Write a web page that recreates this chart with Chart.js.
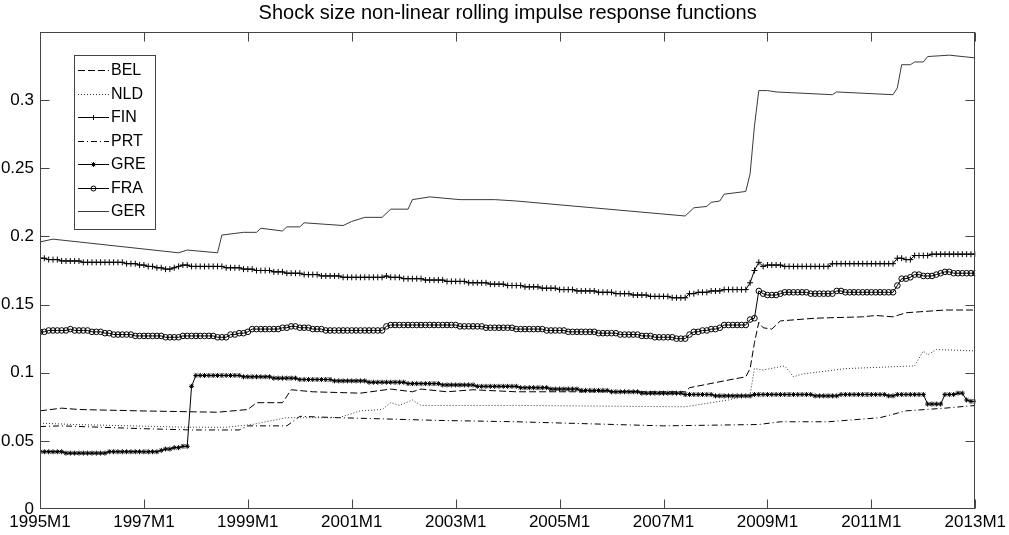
<!DOCTYPE html>
<html>
<head>
<meta charset="utf-8">
<script src="https://cdn.jsdelivr.net/npm/chart.js@4.4.1/dist/chart.umd.min.js"></script>
<style>
  body { margin: 0; background: #fff; }
  #irfChart { display: block; }
</style>
</head>
<body>
<canvas id="irfChart" width="1009" height="535"></canvas>
<script>
// x axis is months since 1995M1 (0..216)
const xTickLabels = ['1995M1', '1997M1', '1999M1', '2001M1', '2003M1', '2005M1', '2007M1', '2009M1', '2011M1', '2013M1'];
const countryNames = ['BEL', 'NLD', 'FIN', 'PRT', 'GRE', 'FRA', 'GER'];
const chartTitle = 'Shock size non-linear rolling impulse response functions';

// series without markers: read at the turning points (month, value)
const belMonths = [0, 5, 9, 23, 41, 48, 50, 56, 58, 63, 74, 81, 86, 88, 94, 100, 110, 149, 150, 158, 163, 164, 165, 166, 167, 169, 171, 179, 190, 193, 197, 200, 209, 216];
const belValues = [0.072, 0.074, 0.073, 0.072, 0.071, 0.073, 0.078, 0.078, 0.0875, 0.086, 0.085, 0.088, 0.086, 0.088, 0.086, 0.0875, 0.086, 0.086, 0.089, 0.094, 0.097, 0.103, 0.122, 0.137, 0.133, 0.132, 0.138, 0.140, 0.141, 0.142, 0.141, 0.144, 0.146, 0.146];

const nldMonths = [0, 8, 34, 43, 49, 57, 61, 69, 74, 79, 81, 83, 86, 88, 110, 149, 159, 164, 165, 167, 172, 174, 176, 186, 202, 204, 205, 207, 216];
const nldValues = [0.063, 0.062, 0.060, 0.060, 0.062, 0.067, 0.067, 0.067, 0.072, 0.073, 0.078, 0.076, 0.080, 0.076, 0.076, 0.075, 0.080, 0.084, 0.103, 0.102, 0.105, 0.097, 0.099, 0.103, 0.105, 0.116, 0.113, 0.117, 0.116];

const prtMonths = [0, 5, 23, 35, 46, 48, 57, 60, 69, 92, 110, 144, 166, 171, 182, 194, 200, 209, 216];
const prtValues = [0.0605, 0.061, 0.059, 0.058, 0.058, 0.061, 0.061, 0.068, 0.067, 0.065, 0.064, 0.061, 0.062, 0.064, 0.064, 0.067, 0.072, 0.074, 0.076];

const gerMonths = [0, 3, 32, 34, 41, 42, 47, 50, 51, 56, 57, 60, 61, 70, 72, 75, 79, 81, 85, 86, 90, 97, 105, 110, 149, 151, 154, 155, 157, 158, 163, 164, 165, 166, 168, 170, 183, 184, 197, 198, 199, 201, 202, 204, 205, 210, 216];
const gerValues = [0.196, 0.198, 0.188, 0.190, 0.188, 0.201, 0.203, 0.203, 0.206, 0.204, 0.207, 0.207, 0.210, 0.208, 0.211, 0.214, 0.214, 0.220, 0.220, 0.227, 0.229, 0.227, 0.227, 0.226, 0.215, 0.221, 0.222, 0.225, 0.226, 0.231, 0.233, 0.246, 0.281, 0.307, 0.307, 0.306, 0.304, 0.306, 0.304, 0.309, 0.326, 0.326, 0.328, 0.328, 0.332, 0.333, 0.331];

// series with markers: one value per month, 1995M1..2013M1
const finValues = [
  0.184, 0.184, 0.183, 0.183, 0.183, 0.182, 0.182, 0.182, 0.182, 0.182, 0.181, 0.181,
  0.181, 0.181, 0.181, 0.181, 0.181, 0.181, 0.181, 0.181, 0.180, 0.180, 0.180, 0.179,
  0.179, 0.178, 0.178, 0.177, 0.177, 0.176, 0.176, 0.177, 0.178, 0.179, 0.179, 0.178,
  0.178, 0.178, 0.178, 0.178, 0.178, 0.178, 0.178, 0.177, 0.177, 0.177, 0.177, 0.176,
  0.176, 0.176, 0.175, 0.175, 0.175, 0.175, 0.174, 0.174, 0.174, 0.173, 0.173, 0.173,
  0.173, 0.172, 0.172, 0.172, 0.172, 0.171, 0.171, 0.171, 0.171, 0.171, 0.170, 0.170,
  0.170, 0.170, 0.170, 0.170, 0.170, 0.170, 0.170, 0.170, 0.171, 0.170, 0.170, 0.170,
  0.169, 0.169, 0.169, 0.169, 0.169, 0.168, 0.168, 0.168, 0.168, 0.168, 0.167, 0.167,
  0.167, 0.167, 0.167, 0.166, 0.166, 0.166, 0.166, 0.166, 0.165, 0.165, 0.165, 0.165,
  0.164, 0.164, 0.164, 0.164, 0.163, 0.163, 0.163, 0.163, 0.162, 0.162, 0.162, 0.162,
  0.161, 0.161, 0.161, 0.161, 0.160, 0.160, 0.160, 0.160, 0.160, 0.159, 0.159, 0.159,
  0.159, 0.158, 0.158, 0.158, 0.158, 0.157, 0.157, 0.157, 0.157, 0.156, 0.156, 0.156,
  0.156, 0.156, 0.155, 0.155, 0.155, 0.155, 0.158, 0.158, 0.159, 0.159, 0.159, 0.160,
  0.160, 0.160, 0.161, 0.161, 0.161, 0.161, 0.161, 0.161, 0.166, 0.175, 0.181, 0.178,
  0.179, 0.179, 0.179, 0.179, 0.178, 0.178, 0.178, 0.178, 0.178, 0.178, 0.178, 0.178,
  0.178, 0.178, 0.178, 0.180, 0.180, 0.180, 0.180, 0.180, 0.180, 0.180, 0.180, 0.180,
  0.180, 0.180, 0.180, 0.180, 0.180, 0.180, 0.184, 0.184, 0.183, 0.183, 0.186, 0.186,
  0.186, 0.186, 0.187, 0.187, 0.187, 0.187, 0.187, 0.187, 0.187, 0.187, 0.187, 0.187,
  0.187
];

const greValues = [
  0.042, 0.042, 0.042, 0.042, 0.042, 0.042, 0.041, 0.041, 0.041, 0.041, 0.041, 0.041,
  0.041, 0.041, 0.041, 0.041, 0.042, 0.042, 0.042, 0.042, 0.042, 0.042, 0.042, 0.042,
  0.042, 0.042, 0.042, 0.042, 0.043, 0.044, 0.044, 0.045, 0.045, 0.046, 0.046, 0.090,
  0.098, 0.098, 0.098, 0.098, 0.098, 0.098, 0.098, 0.098, 0.098, 0.098, 0.098, 0.097,
  0.097, 0.097, 0.097, 0.097, 0.097, 0.097, 0.096, 0.096, 0.096, 0.096, 0.096, 0.096,
  0.095, 0.095, 0.095, 0.095, 0.095, 0.095, 0.095, 0.095, 0.094, 0.094, 0.094, 0.094,
  0.094, 0.094, 0.094, 0.094, 0.093, 0.093, 0.093, 0.093, 0.093, 0.093, 0.093, 0.093,
  0.093, 0.092, 0.092, 0.092, 0.092, 0.092, 0.092, 0.092, 0.092, 0.091, 0.091, 0.091,
  0.091, 0.091, 0.091, 0.091, 0.091, 0.090, 0.090, 0.090, 0.090, 0.090, 0.090, 0.090,
  0.090, 0.090, 0.090, 0.089, 0.089, 0.089, 0.089, 0.089, 0.089, 0.089, 0.088, 0.088,
  0.088, 0.088, 0.088, 0.088, 0.088, 0.087, 0.087, 0.087, 0.087, 0.087, 0.087, 0.087,
  0.086, 0.086, 0.086, 0.086, 0.086, 0.086, 0.086, 0.085, 0.085, 0.085, 0.085, 0.085,
  0.085, 0.085, 0.085, 0.085, 0.085, 0.084, 0.084, 0.084, 0.084, 0.084, 0.084, 0.084,
  0.083, 0.083, 0.083, 0.083, 0.083, 0.083, 0.083, 0.083, 0.083, 0.084, 0.084, 0.084,
  0.084, 0.084, 0.084, 0.084, 0.084, 0.084, 0.084, 0.084, 0.084, 0.084, 0.084, 0.083,
  0.083, 0.083, 0.083, 0.083, 0.083, 0.084, 0.084, 0.084, 0.084, 0.084, 0.084, 0.084,
  0.084, 0.084, 0.084, 0.084, 0.083, 0.083, 0.084, 0.084, 0.084, 0.084, 0.084, 0.084,
  0.084, 0.077, 0.077, 0.077, 0.077, 0.084, 0.084, 0.084, 0.085, 0.085, 0.080, 0.079,
  0.079
];

const fraValues = [
  0.130, 0.130, 0.131, 0.131, 0.131, 0.131, 0.131, 0.132, 0.131, 0.131, 0.131, 0.131,
  0.130, 0.130, 0.130, 0.129, 0.129, 0.128, 0.128, 0.128, 0.128, 0.128, 0.127, 0.127,
  0.127, 0.127, 0.127, 0.127, 0.127, 0.126, 0.126, 0.126, 0.126, 0.127, 0.127, 0.127,
  0.127, 0.127, 0.127, 0.127, 0.127, 0.126, 0.126, 0.126, 0.128, 0.128, 0.129, 0.129,
  0.130, 0.132, 0.132, 0.132, 0.132, 0.132, 0.132, 0.132, 0.133, 0.133, 0.134, 0.134,
  0.133, 0.133, 0.133, 0.132, 0.132, 0.132, 0.131, 0.131, 0.131, 0.131, 0.131, 0.131,
  0.131, 0.131, 0.131, 0.131, 0.131, 0.131, 0.131, 0.131, 0.134, 0.135, 0.135, 0.135,
  0.135, 0.135, 0.135, 0.135, 0.135, 0.135, 0.135, 0.135, 0.135, 0.135, 0.135, 0.135,
  0.135, 0.134, 0.134, 0.134, 0.134, 0.134, 0.134, 0.133, 0.133, 0.133, 0.133, 0.133,
  0.133, 0.133, 0.132, 0.132, 0.132, 0.132, 0.132, 0.132, 0.132, 0.131, 0.131, 0.131,
  0.131, 0.131, 0.130, 0.130, 0.130, 0.130, 0.130, 0.130, 0.130, 0.129, 0.129, 0.129,
  0.129, 0.129, 0.128, 0.128, 0.128, 0.128, 0.128, 0.127, 0.127, 0.127, 0.126, 0.126,
  0.126, 0.126, 0.126, 0.125, 0.125, 0.125, 0.128, 0.130, 0.130, 0.131, 0.131, 0.132,
  0.132, 0.133, 0.135, 0.135, 0.135, 0.135, 0.135, 0.135, 0.139, 0.140, 0.160, 0.158,
  0.157, 0.157, 0.157, 0.158, 0.159, 0.159, 0.159, 0.159, 0.159, 0.159, 0.158, 0.158,
  0.158, 0.158, 0.158, 0.158, 0.160, 0.160, 0.159, 0.159, 0.159, 0.159, 0.159, 0.159,
  0.159, 0.159, 0.159, 0.159, 0.159, 0.159, 0.164, 0.169, 0.169, 0.170, 0.172, 0.172,
  0.171, 0.171, 0.171, 0.172, 0.173, 0.174, 0.174, 0.173, 0.173, 0.173, 0.173, 0.173,
  0.173
];

const byTurningPoints = (months, values) => months.map((m, i) => ({ x: m, y: values[i] }));
const byMonth = values => values.map((v, i) => ({ x: i, y: v }));

const FONT = "'Liberation Sans', Arial, Helvetica, sans-serif";

// frame round the plot with inward ticks on all four sides, title centred over the axes
const boxAxes = {
    id: 'boxAxes',
    afterDatasetsDraw(chart) {
        const { ctx, chartArea: a, scales } = chart;
        const left = Math.round(a.left) + 0.5, right = Math.round(a.right) - 0.5;
        const top = Math.round(a.top) + 0.5, bottom = Math.round(a.bottom) - 0.5;
        const len = 9;
        ctx.save();
        ctx.strokeStyle = '#444';
        ctx.lineWidth = 1;
        ctx.beginPath();
        scales.x.ticks.forEach(t => {
            const px = Math.round(scales.x.getPixelForValue(t.value)) + 0.5;
            ctx.moveTo(px, bottom); ctx.lineTo(px, bottom - len);
            ctx.moveTo(px, top); ctx.lineTo(px, top + len);
        });
        scales.y.ticks.forEach(t => {
            if (t.value <= 0 || t.value >= 0.349) return;
            const py = Math.round(scales.y.getPixelForValue(t.value)) + 0.5;
            ctx.moveTo(left, py); ctx.lineTo(left + len, py);
            ctx.moveTo(right, py); ctx.lineTo(right - len, py);
        });
        ctx.stroke();
        ctx.strokeRect(left, top, right - left, bottom - top);

        ctx.fillStyle = '#000';
        ctx.font = '20px ' + FONT;
        ctx.textAlign = 'center';
        ctx.textBaseline = 'middle';
        ctx.fillText(chartTitle, (a.left + a.right) / 2, 13);
        ctx.restore();
    }
};

function drawMarker(ctx, style, x, y, r) {
    ctx.beginPath();
    if (style === 'cross') {
        ctx.moveTo(x - r, y); ctx.lineTo(x + r, y);
        ctx.moveTo(x, y - r); ctx.lineTo(x, y + r);
    } else if (style === 'star') {
        ctx.moveTo(x - r, y); ctx.lineTo(x + r, y);
        ctx.moveTo(x, y - r); ctx.lineTo(x, y + r);
        ctx.moveTo(x - r * 0.7, y - r * 0.7); ctx.lineTo(x + r * 0.7, y + r * 0.7);
        ctx.moveTo(x - r * 0.7, y + r * 0.7); ctx.lineTo(x + r * 0.7, y - r * 0.7);
    } else if (style === 'circle') {
        ctx.arc(x, y, r, 0, Math.PI * 2);
    }
    ctx.stroke();
}

// legend box in the upper left corner of the plot
const boxLegend = {
    id: 'boxLegend',
    afterDraw(chart) {
        const { ctx } = chart;
        const x0 = 74, y0 = 55, w = 81, h = 174;
        ctx.save();
        ctx.fillStyle = '#fff';
        ctx.fillRect(x0, y0, w, h);
        ctx.strokeStyle = '#444';
        ctx.lineWidth = 1;
        ctx.strokeRect(x0 + 0.5, y0 + 0.5, w, h);
        ctx.font = '16px ' + FONT;
        ctx.textBaseline = 'middle';
        chart.data.datasets.forEach((ds, i) => {
            const y = Math.round(70 + i * 23.5) + 0.5;
            ctx.strokeStyle = ds.borderColor;
            ctx.lineWidth = ds.borderWidth;
            ctx.setLineDash(ds.borderDash || []);
            ctx.beginPath();
            ctx.moveTo(78, y); ctx.lineTo(109, y);
            ctx.stroke();
            ctx.setLineDash([]);
            if (ds.pointRadius > 0) drawMarker(ctx, ds.pointStyle, 93.5, y, Math.min(ds.pointRadius, 2.5));
            ctx.fillStyle = '#000';
            ctx.fillText(ds.label, 111, y);
        });
        ctx.restore();
    }
};

function lineSet(label, data, dash, color) {
    return {
        label: label, data: data,
        borderColor: color || '#000', borderWidth: 1, borderDash: dash,
        pointRadius: 0, tension: 0, fill: false
    };
}

function markerSet(label, data, style, radius) {
    return {
        label: label, data: data,
        borderColor: '#000', borderWidth: 1,
        pointStyle: style, pointRadius: radius, pointBorderColor: '#000',
        pointBackgroundColor: 'rgba(0,0,0,0)', pointBorderWidth: 1,
        tension: 0, fill: false
    };
}

new Chart(document.getElementById('irfChart'), {
    type: 'line',
    data: {
        datasets: [
            lineSet(countryNames[0], byTurningPoints(belMonths, belValues), [7, 3]),
            lineSet(countryNames[1], byTurningPoints(nldMonths, nldValues), [1, 2], '#333'),
            markerSet(countryNames[2], byMonth(finValues), 'cross', 3),
            lineSet(countryNames[3], byTurningPoints(prtMonths, prtValues), [6, 3, 1, 3]),
            markerSet(countryNames[4], byMonth(greValues), 'star', 2.5),
            markerSet(countryNames[5], byMonth(fraValues), 'circle', 2.8),
            lineSet(countryNames[6], byTurningPoints(gerMonths, gerValues), [], '#3a3a3a')
        ]
    },
    options: {
        responsive: false,
        animation: false,
        layout: { padding: { left: 0, right: 30, top: 32, bottom: 0 } },
        plugins: {
            legend: { display: false },
            tooltip: { enabled: false },
            title: { display: false }
        },
        scales: {
            x: {
                type: 'linear', min: 0, max: 216,
                grid: { display: false, drawTicks: false },
                border: { display: false },
                ticks: {
                    stepSize: 24, autoSkip: false, maxRotation: 0, padding: 3,
                    color: '#000', font: { family: FONT, size: 17 },
                    callback: v => xTickLabels[v / 24]
                },
                afterFit: s => { s.height = 26; }
            },
            y: {
                min: 0, max: 0.35,
                grid: { display: false, drawTicks: false },
                border: { display: false },
                ticks: {
                    stepSize: 0.05, padding: 6,
                    color: '#000', font: { family: FONT, size: 17 },
                    callback: v => (v >= 0.349 ? '' : String(Number(v.toFixed(2))))
                },
                afterFit: s => { s.width = 40; }
            }
        }
    },
    plugins: [boxAxes, boxLegend]
});
</script>
</body>
</html>
